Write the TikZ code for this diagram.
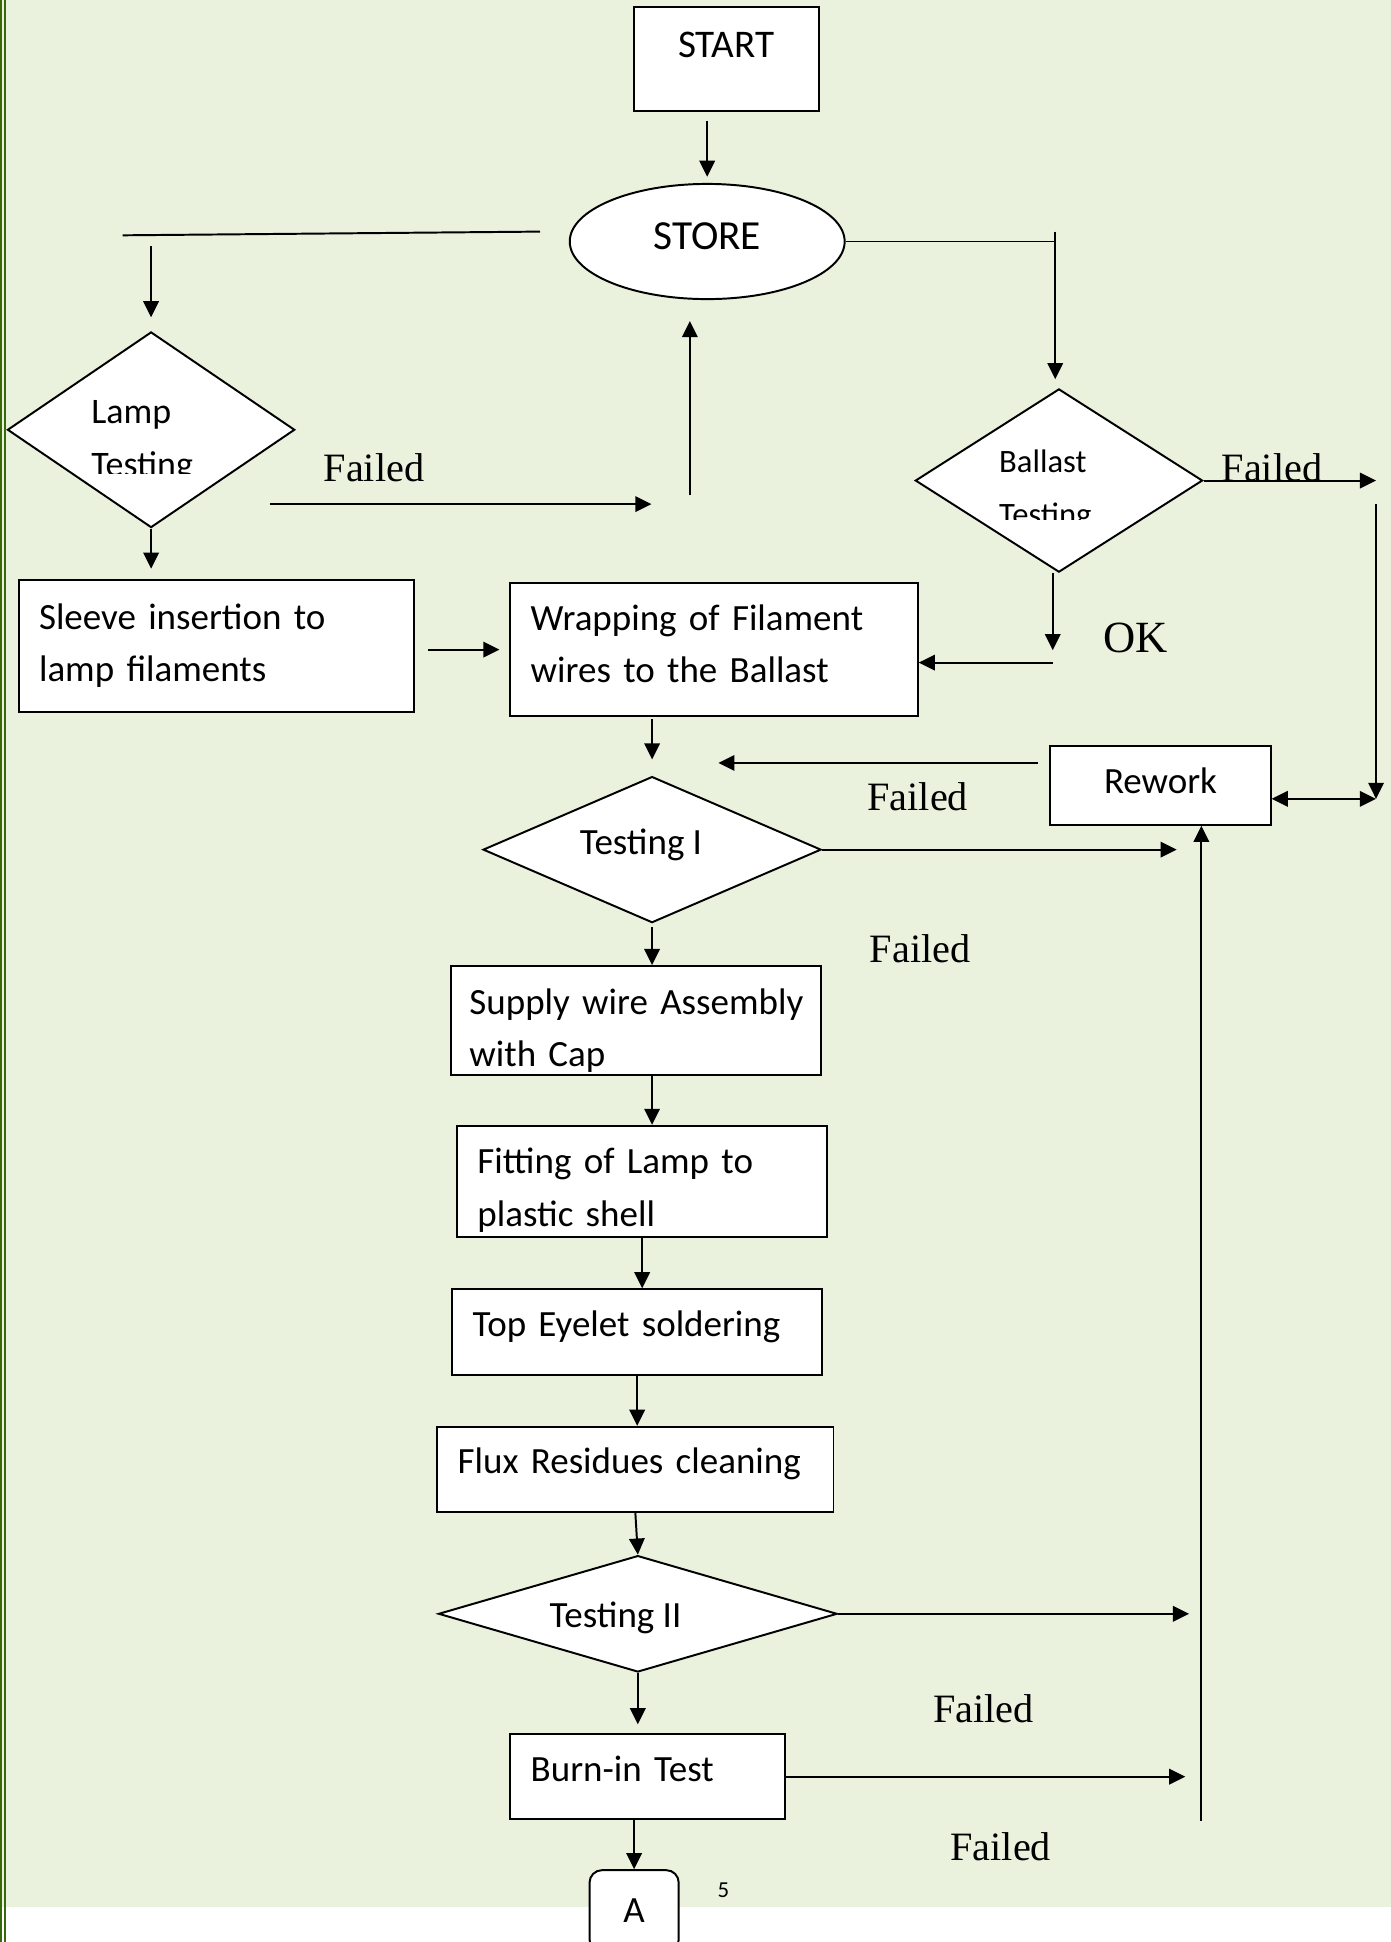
\documentclass[tikz,border=0pt]{standalone}
\usepackage{fontspec}
\setmainfont{Carlito}
\newfontfamily\timesfont{Liberation Serif}
\usetikzlibrary{arrows.meta,shapes.geometric}
\definecolor{pagegreen}{HTML}{EAF1DD}
\definecolor{rulegreen}{HTML}{386A0C}

\begin{document}
\begin{tikzpicture}[x=0.02cm, y=-0.02cm,
            line width=0.9pt, >={Triangle[length=2.6mm,width=2.5mm]},
            procnode/.style={rectangle, draw=black, fill=white, line width=0.9pt, align=left, inner xsep=0.33cm, inner ysep=0pt, font=\fontsize{17}{24}\selectfont},
            decnode/.style={diamond, draw=black, fill=white, line width=0.9pt, inner sep=0pt},
            dectext/.style={inner sep=0pt, font=\fontsize{17}{24}\selectfont},
            failnode/.style={font=\timesfont\fontsize{18.5}{20}\selectfont, inner sep=0pt},
        ]
        \useasboundingbox (0,0) rectangle (1123,1568);
        \fill[pagegreen] (0,0) rectangle (1123,1540);
        \fill[rulegreen] (0,0) rectangle (1.6,1568);
        \fill[rulegreen] (3.2,0) rectangle (4.8,1568);

        \node[procnode, minimum width=2.98cm, minimum height=1.68cm, align=center, font=\fontsize{18}{22}\selectfont, text height=0.41cm, text depth=0.48cm] (start) at (586.5,48) {START};
        \node[draw, ellipse, fill=white, minimum width=4.44cm, minimum height=1.86cm, inner sep=0pt, font=\fontsize{19}{22}\selectfont, text depth=0.16cm] (store) at (571,195) {STORE};
        \node[decnode, minimum width=4.64cm, minimum height=3.16cm] (lamp) at (122,347) {};
        \node[decnode, minimum width=4.64cm, minimum height=2.96cm] (ballast) at (855,388) {};
        \node[procnode, text width=5.72cm, minimum height=2.14cm] (sleeve) at (174.5,521.5) {Sleeve insertion to\\lamp filaments};
        \node[procnode, text width=5.92cm, minimum height=2.14cm] (wrap) at (576.5,524.5) {Wrapping of Filament\\wires to the Ballast\rule[-0.2cm]{0pt}{0pt}};
        \node[procnode, minimum width=3.56cm, minimum height=1.28cm, align=center, text depth=0.16cm] (rework) at (937,634) {Rework};
        \node[decnode, minimum width=5.46cm, minimum height=2.36cm] (test1) at (526.5,686) {};
        \node[procnode, text width=5.38cm, inner xsep=0.3cm, minimum height=1.76cm] (supply) at (513.5,824) {\rule{0pt}{0.75cm}\mbox{Supply wire Assembly}\\with Cap};
        \node[procnode, text width=5.32cm, minimum height=1.8cm] (fit) at (518.5,954) {\rule{0pt}{0.69cm}Fitting of Lamp to\\plastic shell};
        \node[procnode, text width=5.32cm, minimum height=1.38cm, text depth=0.28cm] (eyelet) at (514.5,1075.5) {Top Eyelet soldering};
        \node[procnode, text width=5.74cm, minimum height=1.38cm, text depth=0.28cm] (flux) at (513,1186.5) {Flux Residues cleaning};
        \node[decnode, minimum width=6.44cm, minimum height=1.88cm] (test2) at (515,1303) {};
        \node[procnode, text width=3.78cm, minimum height=1.38cm, text depth=0.27cm] (burn) at (523,1434.5) {Burn-in Test};
        \node[procnode, rounded corners=0.2cm, minimum width=1.44cm, minimum height=1.32cm, align=center, inner xsep=0pt] (conA) at (512,1543) {A};

        % texts of the decisions
        \node[dectext, anchor=base west, font=\fontsize{16.5}{24}\selectfont] (lampL1) at (73,341.7) {Lamp};
        \begin{scope}
            \clip (40,300) rectangle (220,382);
            \node[dectext, anchor=base west, font=\fontsize{16.5}{24}\selectfont] (lampL2) at (73,384.7) {Testing};
        \end{scope}
        \node[dectext, anchor=base west, font=\fontsize{15}{22}\selectfont] (ballastL1) at (806,381.6) {Ballast};
        \begin{scope}
            \clip (780,340) rectangle (940,419.8);
            \node[dectext, anchor=base west, font=\fontsize{15}{22}\selectfont] (ballastL2) at (806,424) {Testing};
        \end{scope}
        \node[dectext] (test1Text) at (517.5,682) {Testing I};
        \node[dectext] (test2Text) at (497,1306) {Testing II};

        % free ends of the connectors
        \coordinate (storeL)   at (436,187);
        \coordinate (lampIn)   at (99,190);
        \coordinate (lampOut)  at (218,407);
        \coordinate (backUp)   at (557,400);
        \coordinate (storeR)   at (852,187);
        \coordinate (railR)    at (1111,386);
        \coordinate (railRb)   at (1111,645);
        \coordinate (okTurn)   at (850,535);
        \coordinate (reworkIn) at (580,616);
        \coordinate (railV)    at (970,1470);

        \draw[->, shorten <=0.14cm, shorten >=0.1cm] (start.south -| store.north) -- (store.north);
        \draw (storeL) -- (lampIn);
        \draw[->, shorten <=0.18cm, shorten >=0.22cm] (lampIn -| lamp.north) -- (lamp.north);
        \draw[->, shorten >=0.16cm] (lamp.south) -- (lamp.south |- sleeve.north);
        \draw[->, shorten >=0.62cm] (lampOut) -- (lampOut -| backUp);
        \draw[->, shorten >=0.34cm] (backUp) -- (backUp |- store.south);
        \draw (store.east) -- (store.east -| storeR);
        \draw[->, shorten >=0.14cm] (storeR) -- (storeR |- ballast.north);
        \draw[->] (ballast.east) -- (ballast.east -| railR);
        \draw[->, shorten <=0.38cm] (ballast.east -| railR) -- (railRb);
        \draw[<->] (rework.east |- railRb) -- (railRb);
        \draw[->, shorten >=0.2cm] (ballast.south -| okTurn) -- (okTurn);
        \draw[->] (okTurn) -- (okTurn -| wrap.east);
        \draw[->, shorten <=0.22cm, shorten >=0.16cm] (sleeve.east |- wrap.west) -- (wrap.west);
        \draw[->, shorten <=0.04cm, shorten >=0.26cm] (wrap.south -| test1.north) -- (test1.north);
        \draw[->, shorten <=0.18cm] (rework.west |- reworkIn) -- (reworkIn);
        \draw[->, shorten >=0.4cm] (test1.east) -- (test1.east -| railV);
        \draw[->] (railV) -- (railV |- rework.south);
        \draw[->, shorten <=0.06cm] (test1.south) -- (test1.south |- supply.north);
        \draw[->] (supply.south -| test1.south) -- (fit.north -| test1.south);
        \draw[->] (fit.south) -- (fit.south |- eyelet.north);
        \draw[->] (eyelet.south) -- (eyelet.south |- flux.north);
        \draw[->] (flux.south) -- (test2.north);
        \draw[->, shorten >=0.14cm] (test2.south) -- (test2.south |- burn.north);
        \draw[->, shorten >=0.2cm] (test2.east) -- (test2.east -| railV);
        \draw[->, shorten >=0.26cm] (burn.east) -- (burn.east -| railV);
        \draw[->] (burn.south -| conA.north) -- (conA.north);

        % labels
        \node[failnode] (failLamp)    at (302,378)  {Failed};
        \node[failnode] (failBallast) at (1027,378) {Failed};
        \node[font=\timesfont\fontsize{20.5}{22}\selectfont] (okLabel) at (917,515) {OK};
        \node[failnode] (failRework)  at (741,643)  {Failed};
        \node[failnode] (failOne)     at (743,766)  {Failed};
        \node[failnode] (failTwo)     at (794,1380) {Failed};
        \node[failnode] (failBurn)    at (808,1491) {Failed};
        \node[font=\fontsize{10.5}{12}\selectfont] (pageNo) at (584,1526) {5};
    \end{tikzpicture}
\end{document}
